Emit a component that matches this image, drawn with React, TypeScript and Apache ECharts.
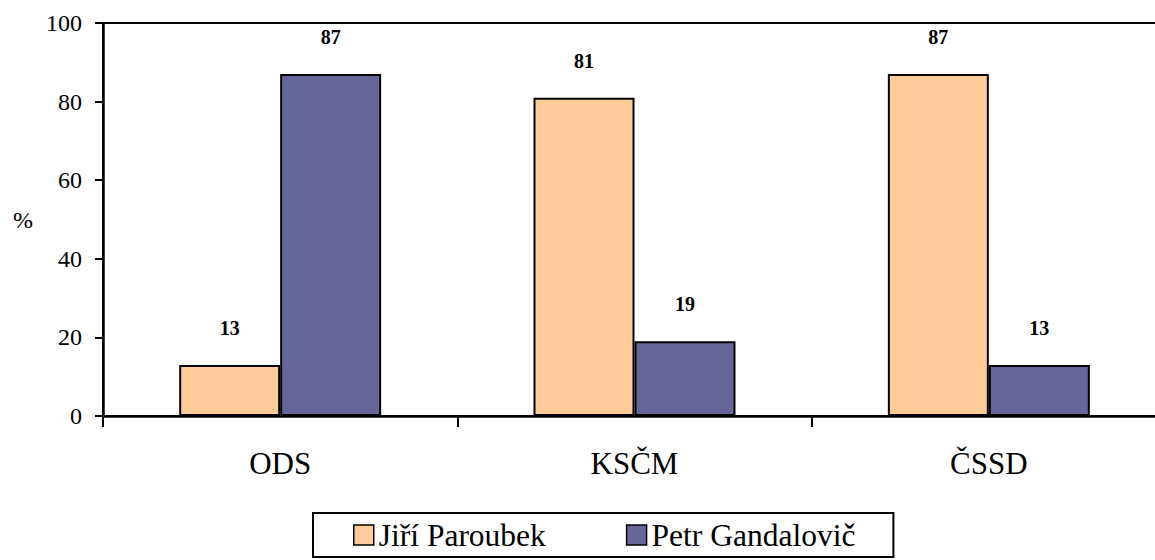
import React, { useEffect, useRef } from "react";
import * as echarts from "echarts";

const categories = ["ODS", "KSČM", "ČSSD"];
const seriesNames = ["Jiří Paroubek", "Petr Gandalovič"];
const paroubek = [13, 81, 87];
const gandalovic = [87, 19, 13];
const yTicks = [0, 20, 40, 60, 80, 100];

const FONT = "Liberation Serif, Times New Roman, serif";

export default function App() {
  const ref = useRef<HTMLDivElement>(null);
  useEffect(() => {
    if (!ref.current) return;
    const chart = echarts.init(ref.current, null, { renderer: "svg" });
    const label = {
      show: true,
      position: "top",
      distance: 27,
      fontFamily: FONT,
      fontWeight: "bold",
      fontSize: 20,
      color: "#000",
    };
    chart.setOption({
      animation: false,
      backgroundColor: "#fff",
      textStyle: { fontFamily: FONT, color: "#000" },
      grid: {
        left: 103,
        top: 23,
        width: 1063,
        height: 393,
        outerBoundsMode: "none",
        containLabel: false,
        show: true,
        borderColor: "#000",
        borderWidth: 2,
        backgroundColor: "transparent",
      },
      legend: {
        left: 313,
        top: 513,
        orient: "horizontal",
        data: seriesNames,
        itemWidth: 20,
        itemHeight: 20,
        itemGap: 80,
        icon: "rect",
        borderColor: "#000",
        borderWidth: 2,
        padding: [5, 38, 5, 40],
        textStyle: { fontFamily: FONT, fontSize: 31.5, color: "#000", lineHeight: 34 },
        itemStyle: { borderColor: "#000", borderWidth: 1.5 },
      },
      xAxis: {
        type: "category",
        data: categories,
        axisLine: { lineStyle: { color: "#000", width: 2.5 } },
        axisTick: { show: true, length: 11, inside: false, alignWithLabel: false, lineStyle: { color: "#000", width: 2 } },
        axisLabel: { margin: 32, fontFamily: FONT, fontSize: 31, color: "#000" },
        splitLine: { show: false },
      },
      yAxis: {
        type: "value",
        min: yTicks[0],
        max: yTicks[yTicks.length - 1],
        interval: 20,
        name: "%",
        nameLocation: "middle",
        nameRotate: 0,
        nameGap: 70,
        nameTextStyle: { fontFamily: FONT, fontSize: 24, color: "#000" },
        axisLine: { show: true, lineStyle: { color: "#000", width: 2.5 } },
        axisTick: { show: true, length: 8, lineStyle: { color: "#000", width: 2 } },
        axisLabel: { margin: 21, fontFamily: FONT, fontSize: 24, color: "#000" },
        splitLine: { show: false },
      },
      series: [
        {
          name: seriesNames[0],
          type: "bar",
          data: paroubek,
          barGap: "0%",
          barCategoryGap: "43%",
          itemStyle: { color: "#FFCC99", borderColor: "#000", borderWidth: 2 },
          label,
        },
        {
          name: seriesNames[1],
          type: "bar",
          data: gandalovic,
          itemStyle: { color: "#666699", borderColor: "#000", borderWidth: 2 },
          label,
        },
      ],
    });
    return () => chart.dispose();
  }, []);
  return <div ref={ref} style={{ position: "absolute", left: 0, top: 0, width: 1155, height: 560 }} />;
}
